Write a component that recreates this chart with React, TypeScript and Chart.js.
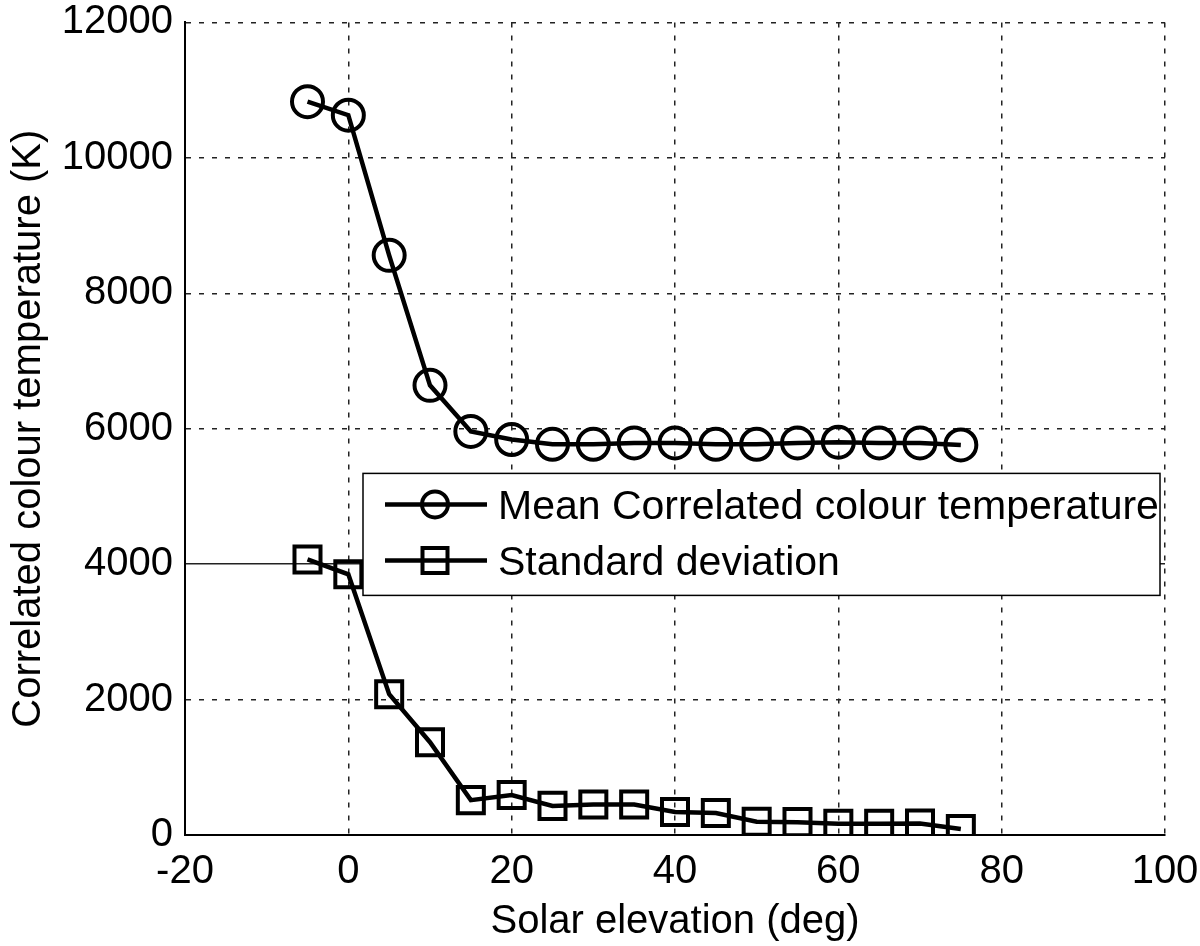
import React, { useEffect, useRef } from "react";
import { Chart, registerables } from "chart.js";

Chart.register(...registerables);

const elevations = [-5, 0, 5, 10, 15, 20, 25, 30, 35, 40, 45, 50, 55, 60, 65, 70, 75];
const meanCCT = [10830, 10630, 8560, 6640, 5960, 5840, 5770, 5770, 5790, 5790, 5770, 5770, 5790, 5800, 5790, 5790, 5760];
const stdCCT = [4070, 3850, 2080, 1370, 515, 590, 430, 450, 450, 340, 325, 195, 190, 165, 165, 170, 90];

const seriesLabels = ["Mean Correlated colour temperature", "Standard deviation"];
const xTitle = "Solar elevation (deg)";
const yTitle = "Correlated colour temperature (K)";
const xRange = [-20, 100];
const yRange = [0, 12000];

const FONT = "'Liberation Sans', Arial, Helvetica, sans-serif";

const legendPlugin = {
  id: "insideLegend",
  afterDraw(chart: any) {
    const { ctx, chartArea } = chart;
    const left = chartArea.left + 178;
    const top = chartArea.top + 451;
    const width = 797;
    const height = 122;
    ctx.save();
    ctx.fillStyle = "#ffffff";
    ctx.fillRect(left, top, width, height);
    ctx.lineWidth = 1.5;
    ctx.strokeStyle = "#000000";
    ctx.strokeRect(left, top, width, height);
    const rows = [
      { y: top + 31, style: "circle", label: seriesLabels[0] },
      { y: top + 87, style: "rect", label: seriesLabels[1] },
    ];
    const lx0 = left + 22;
    const lx1 = left + 124;
    const mx = left + 72;
    for (const r of rows) {
      ctx.lineWidth = 4.5;
      ctx.beginPath();
      ctx.moveTo(lx0, r.y);
      ctx.lineTo(lx1, r.y);
      ctx.stroke();
      ctx.lineWidth = 4;
      ctx.beginPath();
      if (r.style === "circle") {
        ctx.arc(mx, r.y, 13, 0, Math.PI * 2);
      } else {
        ctx.rect(mx - 12.5, r.y - 12.5, 25, 25);
      }
      ctx.stroke();
      ctx.fillStyle = "#000000";
      ctx.font = `41px ${FONT}`;
      ctx.textBaseline = "middle";
      ctx.textAlign = "left";
      ctx.fillText(r.label, left + 135, r.y + 3);
    }
    ctx.restore();
  },
};

export default function App() {
  const ref = useRef<HTMLCanvasElement | null>(null);

  useEffect(() => {
    if (!ref.current) return;
    const dash = (c: any) => (c.type === "tick" ? (c.tick && c.tick.value === 4000 && c.scale.axis === "y" ? [] : [5, 8]) : []);
    const chart = new Chart(ref.current, {
      type: "line",
      data: {
        datasets: [
          {
            label: seriesLabels[0],
            data: elevations.map((x, i) => ({ x, y: meanCCT[i] })),
            borderColor: "#000",
            backgroundColor: "rgba(0,0,0,0)",
            borderWidth: 4.5,
            pointStyle: "circle",
            pointRadius: 15.5,
            pointBorderWidth: 4,
            pointBorderColor: "#000",
            pointBackgroundColor: "rgba(0,0,0,0)",
            tension: 0,
          },
          {
            label: seriesLabels[1],
            data: elevations.map((x, i) => ({ x, y: stdCCT[i] })),
            borderColor: "#000",
            backgroundColor: "rgba(0,0,0,0)",
            borderWidth: 4.5,
            pointStyle: "rect",
            pointRadius: 18.4,
            pointBorderWidth: 4,
            pointBorderColor: "#000",
            pointBackgroundColor: "rgba(0,0,0,0)",
            tension: 0,
          },
        ],
      },
      options: {
        animation: false,
        responsive: false,
        maintainAspectRatio: false,
        layout: { padding: { left: 0, top: 20, right: 35, bottom: 0 } },
        plugins: { legend: { display: false }, tooltip: { enabled: false } },
        scales: {
          x: {
            type: "linear",
            min: xRange[0],
            max: xRange[1],
            afterFit: (s: any) => {
              s.height = 111;
              s.paddingLeft = 0;
              s.paddingRight = 0;
            },
            ticks: {
              stepSize: 20,
              color: "#000",
              padding: 17,
              font: { family: FONT, size: 40, lineHeight: 1 },
              callback: (v: any) => String(v),
            },
            grid: { color: "#222", lineWidth: 1.5, drawTicks: false },
            border: { display: true, color: "#000", width: 2, dash: dash },
            title: {
              display: true,
              text: xTitle,
              color: "#000",
              font: { family: FONT, size: 40, lineHeight: 1.2 },
              padding: { top: 0, bottom: 0 },
            },
          },
          y: {
            type: "linear",
            min: yRange[0],
            max: yRange[1],
            afterFit: (s: any) => {
              s.width = 185;
              s.paddingTop = 0;
              s.paddingBottom = 0;
            },
            ticks: {
              stepSize: 2000,
              color: "#000",
              padding: 12,
              font: { family: FONT, size: 40, lineHeight: 1 },
              callback: (v: any) => String(v),
            },
            grid: { color: "#222", lineWidth: 1.5, drawTicks: false },
            border: { display: true, color: "#000", width: 2, dash: dash },
            title: {
              display: true,
              text: yTitle,
              color: "#000",
              font: { family: FONT, size: 40, lineHeight: 1.2 },
              padding: { top: 5, bottom: 0 },
            },
          },
        },
      },
      plugins: [legendPlugin],
    });
    return () => chart.destroy();
  }, []);

  return (
    <div style={{ position: "absolute", left: 0, top: 0, width: 1200, height: 946, background: "#fff" }}>
      <canvas ref={ref} width={1200} height={946} style={{ width: 1200, height: 946 }} />
    </div>
  );
}
